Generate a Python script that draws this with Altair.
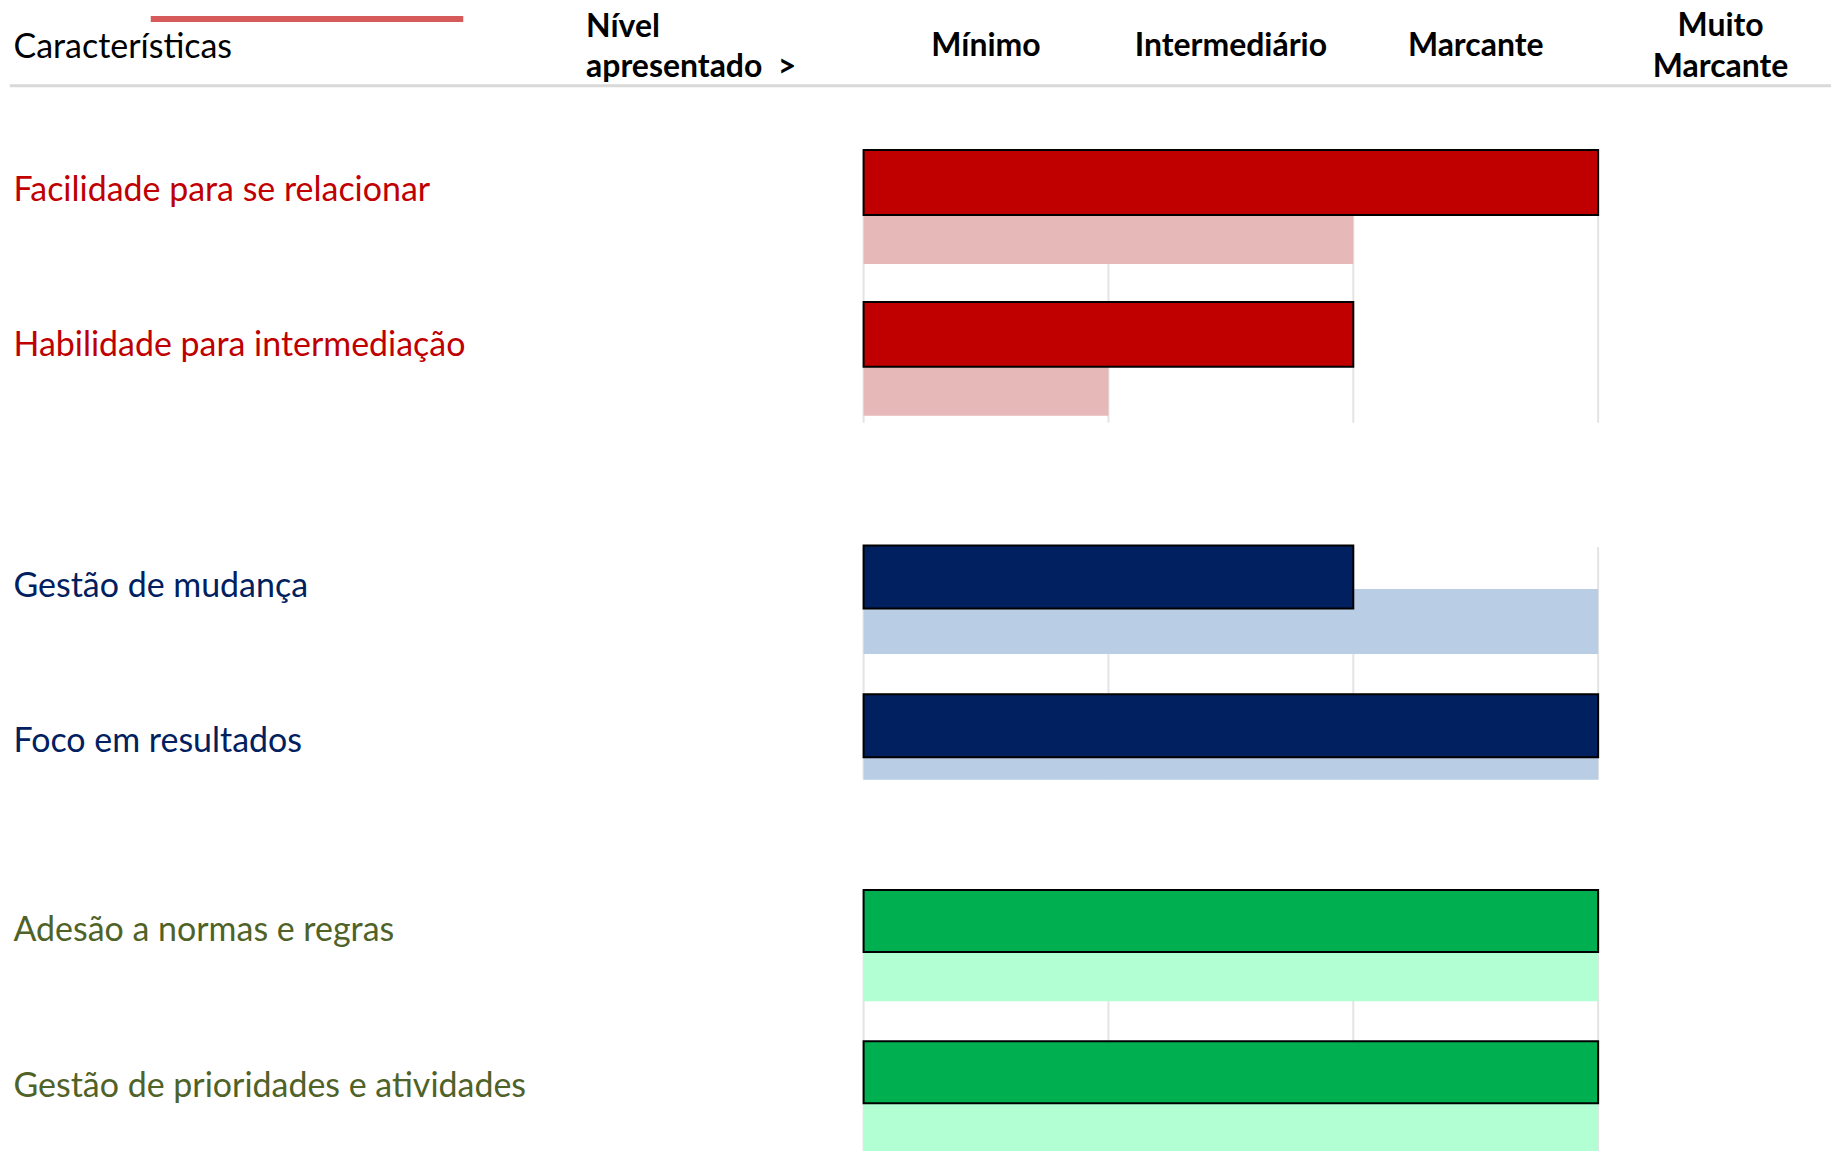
import altair as alt
import pandas as pd

# ---------------- data ----------------
niveis = ["Mínimo", "Intermediário", "Marcante", "Muito\nMarcante"]
titulo_caracteristicas = "Características"
titulo_nivel = "Nível\napresentado\u00a0 >"

g1_nomes = ["Facilidade para se relacionar", "Habilidade para intermediação"]
g1_apresentado = [3, 2]
g1_referencia = [2, 1]

g2_nomes = ["Gestão de mudança", "Foco em resultados"]
g2_apresentado = [2, 3]
g2_referencia = [3, 3]

g3_nomes = ["Adesão a normas e regras", "Gestão de prioridades e atividades"]
g3_apresentado = [3, 3]
g3_referencia = [3, 3]

grid_ticks = [0, 1, 2, 3]

# ---------------- styling ----------------
FONT = "Lato"
W = 1825
xscale = alt.Scale(domain=[0, 4], range=[856, 1837])
one = pd.DataFrame({"k": [0]})


def grupo(nomes, apresentado, referencia, cor_forte, cor_clara, cor_texto,
          height, centros, linhas_texto, grid_top, grid_bottom, s_h, l_off, l_h):
    df = pd.DataFrame({"caracteristica": nomes,
                       "apresentado": apresentado,
                       "referencia": referencia})
    yscale = alt.Scale(type="point", domain=nomes, range=centros, padding=0)
    y = alt.Y("caracteristica:N", scale=yscale, axis=None)
    base = alt.Chart(df)
    grid = alt.Chart(pd.DataFrame({"t": grid_ticks})).mark_rule(
        color="#E4E4E4", strokeWidth=2
    ).encode(
        x=alt.X("t:Q", scale=xscale, axis=None),
        y=alt.value(grid_top), y2=alt.value(grid_bottom)
    )
    clara = base.mark_bar(color=cor_clara, height=l_h, yOffset=l_off, clip=True).encode(
        x=alt.X("referencia:Q", scale=xscale, axis=None), y=y
    )
    forte = base.mark_bar(color=cor_forte, height=s_h, stroke="black",
                          strokeWidth=2, clip=True).encode(
        x=alt.X("apresentado:Q", scale=xscale, axis=None), y=y
    )
    barras = alt.layer(grid, clara, forte)
    yscale_txt = alt.Scale(type="point", domain=nomes, range=linhas_texto, padding=0)
    rot = base.mark_text(align="left", baseline="alphabetic", font=FONT,
                         fontSize=34, color=cor_texto).encode(
        x=alt.value(4.5),
        y=alt.Y("caracteristica:N", scale=yscale_txt, axis=None),
        text="caracteristica:N"
    )
    return alt.layer(barras, rot).resolve_scale(y="independent").properties(
        width=W, height=height
    )


# ---------------- header ----------------
df_n1 = pd.DataFrame({"nivel": niveis[:3], "pos": [i + 0.5 for i in range(3)]})
df_n2 = pd.DataFrame({"nivel": niveis[3:], "pos": [3.5]})

h_niv1 = alt.Chart(df_n1).mark_text(font=FONT, fontSize=32, fontWeight="bold",
                                    align="center", baseline="alphabetic",
                                    color="black").encode(
    x=alt.X("pos:Q", scale=xscale, axis=None), y=alt.value(47.5), text="nivel:N"
)
h_niv2 = alt.Chart(df_n2).mark_text(font=FONT, fontSize=32, fontWeight="bold",
                                    align="center", baseline="alphabetic",
                                    lineBreak="\n", lineHeight=41,
                                    color="black").encode(
    x=alt.X("pos:Q", scale=xscale, axis=None), y=alt.value(27), text="nivel:N"
)
h_car = alt.Chart(pd.DataFrame({"t": [titulo_caracteristicas]})).mark_text(
    font=FONT, fontSize=34, align="left", baseline="alphabetic", color="black"
).encode(x=alt.value(4.5), y=alt.value(49), text="t:N")
h_nivel = alt.Chart(pd.DataFrame({"t": [titulo_nivel]})).mark_text(
    font=FONT, fontSize=32, fontWeight="bold", align="left", baseline="alphabetic",
    lineBreak="\n", lineHeight=40.5, color="black"
).encode(x=alt.value(578), y=alt.value(28), text="t:N")
red_line = alt.Chart(one).mark_rule(color="#D65A5A", strokeWidth=6).encode(
    x=alt.value(142), x2=alt.value(455), y=alt.value(10)
)
gray_line = alt.Chart(one).mark_rule(color="#D9D9D9", strokeWidth=3).encode(
    x=alt.value(0.8), x2=alt.value(W), y=alt.value(77)
)
header = alt.layer(red_line, gray_line, h_car, h_nivel, h_niv1, h_niv2).properties(
    width=W, height=122
)

g1 = grupo(g1_nomes, g1_apresentado, g1_referencia, "#C00000", "#E6B9B8", "#C00000",
           310, [51.9, 204], [70.3, 226], 20, 292.6, 65, 57, 49)
g2 = grupo(g2_nomes, g2_apresentado, g2_referencia, "#002060", "#B9CDE5", "#002060",
           340, [137, 286], [157.5, 312.4], 107, 340, 63, 44.5, 65)
g3 = grupo(g3_nomes, g3_apresentado, g3_referencia, "#00B050", "#B3FFD4", "#4F6228",
           372, [141.5, 293], [161.5, 317.5], 112, 372, 62, 56, 49)

chart = alt.vconcat(header, g1, g2, g3, spacing=0, bounds="flush").properties(
    padding=0, background="white"
).configure_view(stroke=None)

chart.save("out.html", embed_options={"renderer": "svg", "actions": False})
